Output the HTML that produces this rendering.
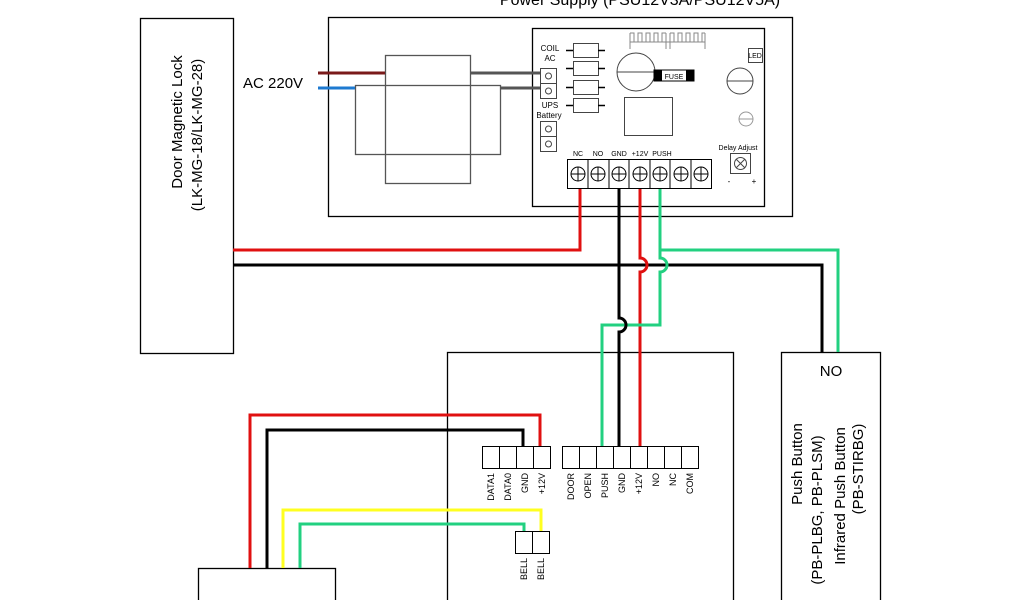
<!DOCTYPE html>
<html><head><style>
html,body{margin:0;padding:0;background:#fff;width:1024px;height:600px;overflow:hidden}
svg{display:block;font-family:"Liberation Sans",Arial,sans-serif}
</style></head><body>
<svg width="1024" height="600" viewBox="0 0 1024 600" xmlns="http://www.w3.org/2000/svg">
<g fill="none" stroke="#000" stroke-width="1.3">
<rect x="140.5" y="18.5" width="93" height="335"/>
<rect x="328.5" y="17.5" width="464" height="199"/>
<rect x="532.5" y="28.5" width="232" height="178"/>
<rect x="385.5" y="55.5" width="85" height="128" stroke="#555"/>
<rect x="355.5" y="85.5" width="145" height="69" stroke="#555"/>
<rect x="447.5" y="352.5" width="286" height="260"/>
<rect x="781.5" y="352.5" width="99" height="260"/>
<rect x="198.5" y="568.5" width="137" height="50"/>
</g>
<text x="640" y="5" font-size="16" text-anchor="middle">Power Supply (PSU12V3A/PSU12V5A)</text>
<text x="243" y="88" font-size="15">AC 220V</text>
<text transform="translate(182,122) rotate(-90)" font-size="15" text-anchor="middle">Door Magnetic Lock</text>
<text transform="translate(202,135) rotate(-90)" font-size="15" text-anchor="middle">(LK-MG-18/LK-MG-28)</text>
<path d="M318 73H385" stroke="#7a1a1a" stroke-width="3"/>
<path d="M318 88H355" stroke="#1e7ad0" stroke-width="3"/>
<path d="M470 73H552M500 88H552" stroke="#555" stroke-width="3"/>
<g fill="none" stroke="#444" stroke-width="1">
<rect x="540.5" y="68.5" width="16" height="15" fill="#fff"/><rect x="540.5" y="83.5" width="16" height="15" fill="#fff"/>
<circle cx="548.5" cy="76" r="3"/><circle cx="548.5" cy="91" r="3"/>
<rect x="540.5" y="121.5" width="16" height="15"/><rect x="540.5" y="136.5" width="16" height="15"/>
<circle cx="548.5" cy="129" r="3"/><circle cx="548.5" cy="144" r="3"/>
<rect x="573.5" y="43.5" width="25" height="14"/><rect x="573.5" y="61.5" width="25" height="14"/>
<rect x="573.5" y="80.5" width="25" height="14"/><rect x="573.5" y="98.5" width="25" height="14"/>
<path d="M566 50.5h7M598 50.5h7M566 68.5h7M598 68.5h7M566 87.5h7M598 87.5h7M566 105.5h7M598 105.5h7" stroke="#000" stroke-width="1.5"/>
<circle cx="636" cy="72" r="19"/><path d="M617 72h38"/>
<circle cx="740" cy="81" r="13"/><path d="M727 81h26"/>
<circle cx="746" cy="119" r="7" stroke="#999"/><path d="M739 119h14" stroke="#999"/>
<rect x="624.5" y="97.5" width="48" height="38"/>
<rect x="748.5" y="48.5" width="14" height="14"/>
<path d="M630 49v-16M630 42h75M705 49v-16M666 49v-16M670 49v-16M630 33h4v9M638 42v-9h4v9M646 42v-9h4v9M654 42v-9h4v9M662 42v-9h4M670 33h4v9M678 42v-9h4v9M686 42v-9h4v9M694 42v-9h4v9M702 42v-9h3" stroke="#888"/>
<rect x="730.5" y="153.5" width="20" height="20"/><circle cx="740.5" cy="163.5" r="6"/><path d="M736 159l9 9M745 159l-9 9"/>
</g>
<rect x="654" y="70" width="40" height="11" fill="#fff" stroke="#000"/>
<rect x="654" y="70" width="8" height="11" fill="#000"/><rect x="686" y="70" width="8" height="11" fill="#000"/>
<text x="674" y="79" font-size="7" text-anchor="middle">FUSE</text>
<g font-size="8" text-anchor="middle">
<text x="550" y="51">COIL</text><text x="550" y="61">AC</text>
<text x="550" y="108">UPS</text><text x="549" y="118">Battery</text>
<text x="755" y="58" font-size="7">LED</text>
<text x="738" y="150" font-size="7">Delay Adjust</text>
<text x="729" y="184">-</text><text x="754" y="184">+</text>
<text x="578" y="156" font-size="7">NC</text><text x="598" y="156" font-size="7">NO</text>
<text x="619" y="156" font-size="7">GND</text><text x="640" y="156" font-size="7">+12V</text><text x="662" y="156" font-size="7">PUSH</text>
</g>
<g stroke="#000" fill="#fff" stroke-width="1">
<rect x="567.5" y="159.5" width="144" height="29"/>
<g fill="none">
<path d="M588 160v28M609 160v28M629 160v28M650 160v28M670 160v28M691 160v28"/>
<circle cx="578" cy="174" r="7"/><circle cx="598" cy="174" r="7"/><circle cx="619" cy="174" r="7"/><circle cx="640" cy="174" r="7"/><circle cx="660" cy="174" r="7"/><circle cx="681" cy="174" r="7"/><circle cx="701" cy="174" r="7"/>
<path d="M571 174h14M578 167v14M591 174h14M598 167v14M612 174h14M619 167v14M633 174h14M640 167v14M653 174h14M660 167v14M674 174h14M681 167v14M694 174h14M701 167v14"/>
</g>
</g>
<g fill="none" stroke-width="3">
<path d="M233 250H580V189" stroke="#e01010"/>
<path d="M233 265H822V352" stroke="#000"/>
<path d="M660 189V250H838V352" stroke="#22d080"/>
<path d="M640 189V258a7 7 0 0 1 0 14V446" stroke="#e01010"/>
<path d="M660 250V258a7 7 0 0 1 0 14V325H602V446" stroke="#22d080"/>
<path d="M619 189V318a7 7 0 0 1 0 14V446" stroke="#000"/>
<path d="M540 446V415H250V568" stroke="#e01010"/>
<path d="M523 446V430H267V568" stroke="#000"/>
<path d="M541 531V510H283V568" stroke="#ffff20"/>
<path d="M524 531V524H300V568" stroke="#22d080"/>
</g>
<g fill="#fff" stroke="#000" stroke-width="1">
<rect x="482.5" y="446.5" width="17" height="22"/><rect x="499.5" y="446.5" width="17" height="22"/><rect x="516.5" y="446.5" width="17" height="22"/><rect x="533.5" y="446.5" width="17" height="22"/>
<rect x="562.5" y="446.5" width="17" height="22"/><rect x="579.5" y="446.5" width="17" height="22"/><rect x="596.5" y="446.5" width="17" height="22"/><rect x="613.5" y="446.5" width="17" height="22"/><rect x="630.5" y="446.5" width="17" height="22"/><rect x="647.5" y="446.5" width="17" height="22"/><rect x="664.5" y="446.5" width="17" height="22"/><rect x="681.5" y="446.5" width="17" height="22"/>
<rect x="515.5" y="531.5" width="17" height="22"/><rect x="532.5" y="531.5" width="17" height="22"/>
</g>
<g font-size="9" text-anchor="end">
<text transform="translate(494,473) rotate(-90)">DATA1</text>
<text transform="translate(511,473) rotate(-90)">DATA0</text>
<text transform="translate(528,473) rotate(-90)">GND</text>
<text transform="translate(545,473) rotate(-90)">+12V</text>
<text transform="translate(574,473) rotate(-90)">DOOR</text>
<text transform="translate(591,473) rotate(-90)">OPEN</text>
<text transform="translate(608,473) rotate(-90)">PUSH</text>
<text transform="translate(625,473) rotate(-90)">GND</text>
<text transform="translate(642,473) rotate(-90)">+12V</text>
<text transform="translate(659,473) rotate(-90)">NO</text>
<text transform="translate(676,473) rotate(-90)">NC</text>
<text transform="translate(693,473) rotate(-90)">COM</text>
<text transform="translate(527,558) rotate(-90)">BELL</text>
<text transform="translate(544,558) rotate(-90)">BELL</text>
</g>
<text x="831" y="376" font-size="15" text-anchor="middle">NO</text>
<g font-size="15" text-anchor="middle">
<text transform="translate(802,464) rotate(-90)">Push Button</text>
<text transform="translate(822,510) rotate(-90)">(PB-PLBG, PB-PLSM)</text>
<text transform="translate(845,496) rotate(-90)">Infrared Push Button</text>
<text transform="translate(863,469) rotate(-90)">(PB-STIRBG)</text>
</g>
</svg>
</body></html>
